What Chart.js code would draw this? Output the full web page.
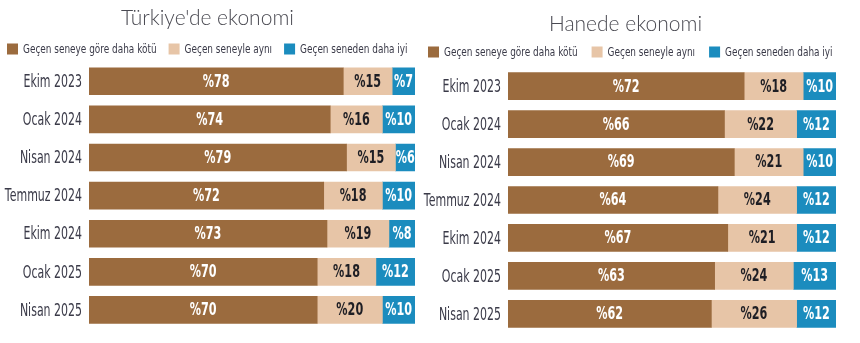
<!DOCTYPE html>
<html>
<head>
<meta charset="utf-8">
<script src="https://cdn.jsdelivr.net/npm/chart.js@4.4.1/dist/chart.umd.min.js"></script>
<style>
  html, body { margin: 0; padding: 0; background: #fff; }
  #wrap { position: relative; width: 860px; height: 343px; }
  .box { position: absolute; top: 0; height: 343px; }
  #left { left: 0; width: 430px; }
  #right { left: 415px; width: 445px; }
</style>
</head>
<body>
<div id="wrap">
  <div class="box" id="left"><canvas id="chartTr"></canvas></div>
  <div class="box" id="right"><canvas id="chartHane"></canvas></div>
</div>
<script>
// donemler
const donemler = ['Ekim 2023', 'Ocak 2024', 'Nisan 2024', 'Temmuz 2024', 'Ekim 2024', 'Ocak 2025', 'Nisan 2025'];
const seriAdlari = ['Geçen seneye göre daha kötü', 'Geçen seneyle aynı', 'Geçen seneden daha iyi'];

// Türkiye'de ekonomi
const trKotu = [78, 74, 79, 72, 73, 70, 70];
const trAyni = [15, 16, 15, 18, 19, 18, 20];
const trIyi = [7, 10, 6, 10, 8, 12, 10];

// Hanede ekonomi
const haneKotu = [72, 66, 69, 64, 67, 63, 62];
const haneAyni = [18, 22, 21, 24, 21, 24, 26];
const haneIyi = [10, 12, 10, 12, 12, 13, 12];

const renkler = ['#9b6b3e', '#e7c5a7', '#1b8cbe'];
const yaziRenk = ['#ffffff', '#1e1e24', '#ffffff'];
const narrow = "'DejaVu Sans', sans-serif";

// sikistirilmis yazi (dar font yok, yatayda daraltiyoruz)
function darYaz(ctx, txt, x, y, sx) {
  ctx.save();
  ctx.translate(x, y);
  ctx.scale(sx, 1);
  ctx.fillText(txt, 0, 0);
  ctx.restore();
}

// bar icine yuzde yazisi, y ekseni etiketleri ve lejant
const etiketPlugin = {
  id: 'etiketler',
  afterDatasetsDraw(chart, args, opts) {
    const ctx = chart.ctx;
    ctx.save();
    ctx.font = 'bold 17px ' + narrow;
    ctx.textAlign = 'center';
    ctx.textBaseline = 'middle';
    chart.data.datasets.forEach((ds, i) => {
      chart.getDatasetMeta(i).data.forEach((bar, j) => {
        const p = bar.getProps(['x', 'y', 'base'], true);
        ctx.fillStyle = yaziRenk[i];
        darYaz(ctx, '%' + ds.data[j], (p.x + p.base) / 2, p.y + 1, 0.66);
      });
    });

    const y = chart.scales.y;
    ctx.font = '18px ' + narrow;
    ctx.textAlign = 'right';
    ctx.fillStyle = '#3a3a48';
    chart.data.labels.forEach((lab, i) => {
      darYaz(ctx, lab, y.right - 7, y.getPixelForTick(i) + 1, 0.61);
    });

    // lejant
    const dar = 0.686;
    ctx.font = '13px ' + narrow;
    ctx.textAlign = 'left';
    let x = opts.x;
    chart.data.datasets.forEach((ds, i) => {
      ctx.fillStyle = ds.backgroundColor;
      ctx.fillRect(x, opts.y - 5.5, 11, 11);
      ctx.fillStyle = '#3a3a48';
      darYaz(ctx, ds.label, x + 16, opts.y + 1, dar);
      x += 16 + ctx.measureText(ds.label).width * dar + opts.gap;
    });
    ctx.restore();
  }
};

function grafik(id, baslik, kotu, ayni, iyi, pad, yGenislik, titlePad, lejant) {
  const degerler = [kotu, ayni, iyi];
  return new Chart(document.getElementById(id), {
    type: 'bar',
    data: {
      labels: donemler,
      datasets: degerler.map((d, i) => ({
        label: seriAdlari[i],
        data: d,
        backgroundColor: renkler[i],
        borderWidth: 0,
        barThickness: 27
      }))
    },
    options: {
      indexAxis: 'y',
      responsive: true,
      maintainAspectRatio: false,
      animation: false,
      layout: { padding: pad },
      plugins: {
        title: {
          display: true,
          text: baslik,
          color: '#4a4a52',
          font: { family: 'Lato', size: 21, weight: 300 },
          padding: titlePad
        },
        legend: { display: false },
        tooltip: { enabled: false },
        etiketler: lejant
      },
      scales: {
        x: {
          stacked: true,
          display: false,
          min: 0,
          max: 100
        },
        y: {
          stacked: true,
          grid: { display: false },
          border: { display: false },
          afterFit(scale) { scale.width = yGenislik; },
          ticks: {
            color: 'rgba(0,0,0,0)',
            font: { family: narrow, size: 12 }
          }
        }
      }
    },
    plugins: [etiketPlugin]
  });
}

grafik('chartTr', "Türkiye'de ekonomi", trKotu, trAyni, trIyi,
  { left: 0, right: 15, top: 0, bottom: 14 }, 89,
  { top: 6, bottom: 31 }, { x: 7, y: 49, gap: 12 });
grafik('chartHane', 'Hanede ekonomi', haneKotu, haneAyni, haneIyi,
  { left: 0, right: 24, top: 4, bottom: 9 }, 93,
  { top: 8, bottom: 30 }, { x: 13, y: 52, gap: 14 });
</script>
</body>
</html>
